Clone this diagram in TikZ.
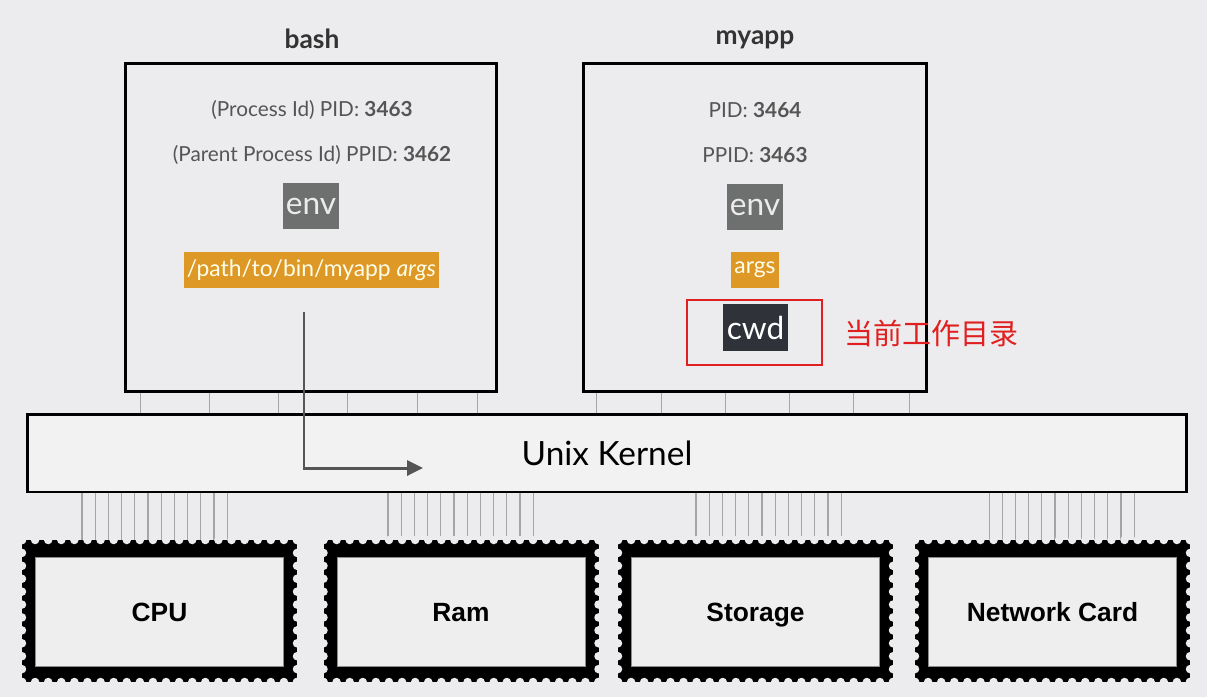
\documentclass[tikz,border=0pt]{standalone}
\usepackage{fontspec}
\setmainfont{Lato}
\newfontfamily\labelfont{Liberation Sans}
\newfontfamily\cjkfont{Noto Sans CJK SC}
\usetikzlibrary{arrows.meta,positioning}
\definecolor{slidebg}{RGB}{236,236,238}
\definecolor{stampfill}{RGB}{238,238,239}
\definecolor{envgray}{RGB}{110,111,111}
\definecolor{argsorange}{RGB}{222,152,38}
\definecolor{cwddark}{RGB}{47,51,57}
\definecolor{notered}{RGB}{224,32,32}
\definecolor{textgray}{RGB}{85,85,85}
\definecolor{wiregray}{RGB}{165,165,165}

\begin{document}
\begin{tikzpicture}[
        x=0.02cm, y=-0.02cm,
        procbox/.style={draw, line width=1.7pt, minimum height=6.58cm, inner sep=0pt},
        title/.style={font=\bfseries\fontsize{15}{18}\selectfont, text=black!80, anchor=base},
        pidtext/.style={font=\fontsize{11.8}{14}\selectfont, text=textgray, anchor=base},
        envbox/.style={fill=envgray, text=black!8, minimum width=1.12cm, minimum height=0.92cm, inner sep=1pt, font=\fontsize{18}{20}\selectfont},
        argsbox/.style={fill=argsorange, text=white!92!yellow, minimum height=0.72cm, inner sep=1pt, font=\fontsize{13}{16}\selectfont},
        cwdbox/.style={fill=cwddark, text=white, minimum width=1.3cm, minimum height=0.94cm, inner sep=1pt, font=\fontsize{18}{20}\selectfont},
        note/.style={draw=notered, line width=0.9pt, minimum width=2.7cm, minimum height=1.3cm},
        kernelbox/.style={draw, line width=1.7pt, fill=slidebg!70!white, minimum width=23.2cm, minimum height=1.56cm, font=\fontsize{19}{22}\selectfont},
        stampin/.style={fill=stampfill, draw=black!45, line width=0.5pt, minimum width=4.96cm, minimum height=2.18cm, text height=11pt, text depth=0pt, font=\labelfont\bfseries\fontsize{15}{18}\selectfont},
        wire/.style={draw=wiregray, line width=0.6pt},
        callarrow/.style={-{Triangle[length=9pt,width=8.5pt]}, line width=1.7pt, draw=textgray}
    ]
        % Background
        \fill[slidebg] (0,0) rectangle (1207,697);
        \useasboundingbox (0,0) rectangle (1207,697);

        % Processes
        \node[procbox, minimum width=7.44cm] (bash) at (311,227.5) {};
        \node[procbox, minimum width=6.88cm] (myapp) at (755,227.5) {};
        \node[title] (bashtitle) at (312,48) {bash};
        \node[title] (myapptitle) at (755,44) {myapp};

        % bash contents
        \node[pidtext] (bashpid) at (312,116) {(Process Id) PID: \textbf{3463}};
        \node[pidtext] (bashppid) at (312,161) {(Parent Process Id) PPID: \textbf{3462}};
        \node[envbox] (bashenv) at (311,206) {env};
        \node[argsbox, minimum width=5.1cm] (bashargs) at (311.5,270) {/path/to/bin/myapp \textit{args}};

        % myapp contents
        \node[pidtext] (myapppid) at (755,117) {PID: \textbf{3464}};
        \node[pidtext] (myappppid) at (755,162) {PPID: \textbf{3463}};
        \node[envbox] (myappenv) at (755,207) {env};
        \node[argsbox, minimum width=0.96cm] (myappargs) at (755,270) {args};
        \node[cwdbox] (cwd) at (755.5,327.5) {cwd};
        \node[note] (cwdnote) at (754.5,332.5) {};
        \node[font=\cjkfont\fontsize{16.5}{18}\selectfont, text=notered, anchor=west] (cwdtext) at (838,333) {当前工作目录};

        % Kernel
        \node[kernelbox] (kernel) at (607,453) {Unix Kernel};
        \foreach \dx in {0.34,1.72,3.10,4.48,5.88,7.08}
            \draw[wire] ([xshift=\dx cm]bash.south west) -- ([xshift=\dx cm]bash.south west |- kernel.north);
        \foreach \dx in {0.30,1.60,2.88,4.16,5.44,6.56}
            \draw[wire] ([xshift=\dx cm]myapp.south west) -- ([xshift=\dx cm]myapp.south west |- kernel.north);

        % exec call
        \coordinate (argsout) at (304,312);
        \coordinate (kernelin) at (423,468);
        \draw[callarrow] (argsout) |- (kernelin);

        % Hardware
        \foreach \cx/\wx/\name/\txt in {159.5/82/cpu/CPU, 461/388/ram/Ram, 755.5/696/storage/Storage, 1052.5/989/netcard/Network Card}{
            \coordinate (\name-top) at (\cx,546);
            \foreach \k in {0,...,11}{
                \pgfmathsetmacro\off{(\wx-\cx+\k*13.2)*0.569}
                \draw[wire] ([xshift=\off pt]\name-top) -- ([xshift=\off pt]\name-top |- kernel.south);
            }
            \fill[black] (\cx-137.5,540) rectangle (\cx+137.5,682);
            \foreach \k in {0,...,21}{
                \fill[slidebg] (\cx-137.5+\k*13.095,540) circle[radius=0.085cm];
                \fill[slidebg] (\cx-137.5+\k*13.095,682) circle[radius=0.085cm];
            }
            \foreach \j in {0,...,11}{
                \fill[slidebg] (\cx-137.5,540+\j*12.91) circle[radius=0.085cm];
                \fill[slidebg] (\cx+137.5,540+\j*12.91) circle[radius=0.085cm];
            }
            \node[stampin] (\name) at (\cx,611.5) {\txt};
        }

    \end{tikzpicture}
\end{document}
